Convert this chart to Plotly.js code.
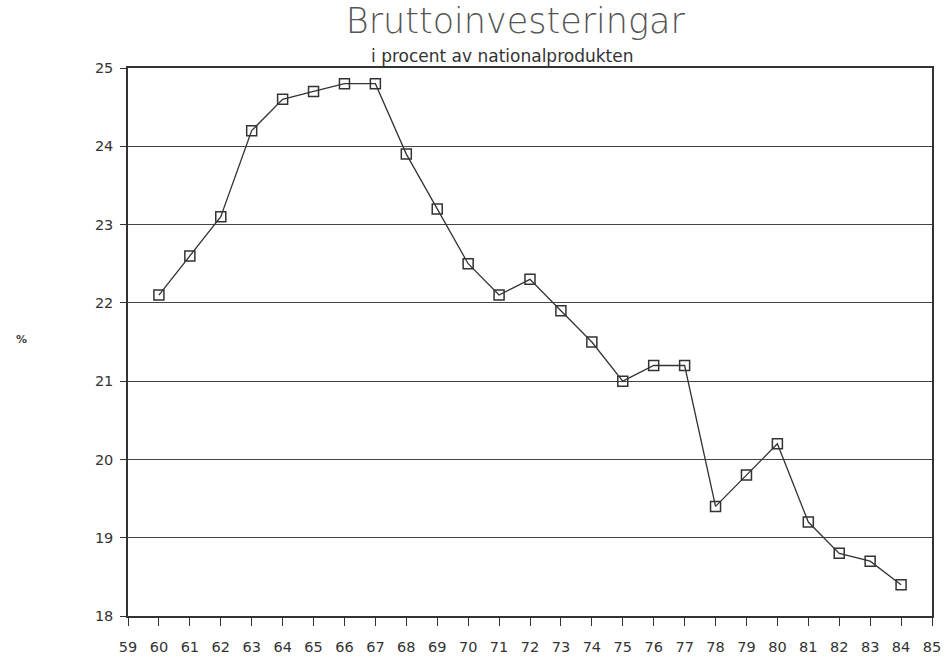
<!DOCTYPE html>
<html>
<head>
<meta charset="utf-8">
<script src="https://cdn.plot.ly/plotly-3.0.1.min.js"></script>
<style>
  html, body { margin: 0; padding: 0; background: #fff; }
  #chart { width: 949px; height: 658px; }
</style>
</head>
<body>
<div id="chart"></div>
<script>
const years = [60, 61, 62, 63, 64, 65, 66, 67, 68, 69, 70, 71, 72,
  73, 74, 75, 76, 77, 78, 79, 80, 81, 82, 83, 84];
const investShare = [22.1, 22.6, 23.1, 24.2, 24.6, 24.7, 24.8, 24.8, 23.9, 23.2, 22.5, 22.1, 22.3,
  21.9, 21.5, 21.0, 21.2, 21.2, 19.4, 19.8, 20.2, 19.2, 18.8, 18.7, 18.4];
const xTicks = [59, 60, 61, 62, 63, 64, 65, 66, 67, 68, 69, 70, 71, 72,
  73, 74, 75, 76, 77, 78, 79, 80, 81, 82, 83, 84, 85];
const yTicks = [18, 19, 20, 21, 22, 23, 24, 25];

const ink = "#333333";
const tickFont = { family: "DejaVu Sans", size: 14.5, color: ink };

Plotly.newPlot("chart", [
  {
    type: "scatter",
    mode: "lines+markers",
    x: years,
    y: investShare,
    line: { color: ink, width: 1.3 },
    marker: {
      symbol: "square-open",
      size: 10,
      color: ink,
      line: { color: ink, width: 1.5 }
    },
    hovertemplate: "19%{x}: %{y:.1f}%<extra></extra>"
  }
], {
  width: 949,
  height: 658,
  paper_bgcolor: "#ffffff",
  plot_bgcolor: "#ffffff",
  margin: { l: 128, r: 17, t: 68, b: 42 },
  showlegend: false,
  title: {
    text: "Bruttoinvesteringar",
    x: 0.543,
    xanchor: "center",
    y: 0.968,
    yanchor: "middle",
    font: { family: "DejaVu Sans", size: 35, weight: 200, color: "#555555" }
  },
  annotations: [
    {
      text: "i procent av nationalprodukten",
      xref: "paper",
      yref: "paper",
      x: 0.465,
      y: 1.0,
      yanchor: "bottom",
      yshift: 0,
      showarrow: false,
      font: { family: "DejaVu Sans", size: 17, color: ink }
    },
    {
      text: "%",
      xref: "paper",
      yref: "paper",
      x: 0,
      xshift: -114,
      y: 0.505,
      showarrow: false,
      font: { family: "DejaVu Sans", size: 11, weight: "bold", color: "#444444" }
    }
  ],
  xaxis: {
    range: [59, 85],
    tickvals: xTicks,
    ticktext: xTicks.map(String),
    showgrid: false,
    zeroline: false,
    showline: true,
    linecolor: ink,
    linewidth: 1.5,
    mirror: true,
    ticks: "outside",
    ticklen: 8,
    tickcolor: ink,
    tickwidth: 1.3,
    ticklabelstandoff: 9,
    tickfont: tickFont
  },
  yaxis: {
    range: [18, 25],
    tickvals: yTicks,
    ticktext: yTicks.map(String),
    showgrid: true,
    gridcolor: "#444444",
    gridwidth: 1.4,
    zeroline: false,
    showline: true,
    linecolor: ink,
    linewidth: 1.5,
    mirror: true,
    ticks: "outside",
    ticklen: 6,
    tickcolor: ink,
    tickwidth: 1.3,
    ticklabelstandoff: 4,
    tickfont: tickFont
  }
}, {
  displayModeBar: false
});
</script>
</body>
</html>
